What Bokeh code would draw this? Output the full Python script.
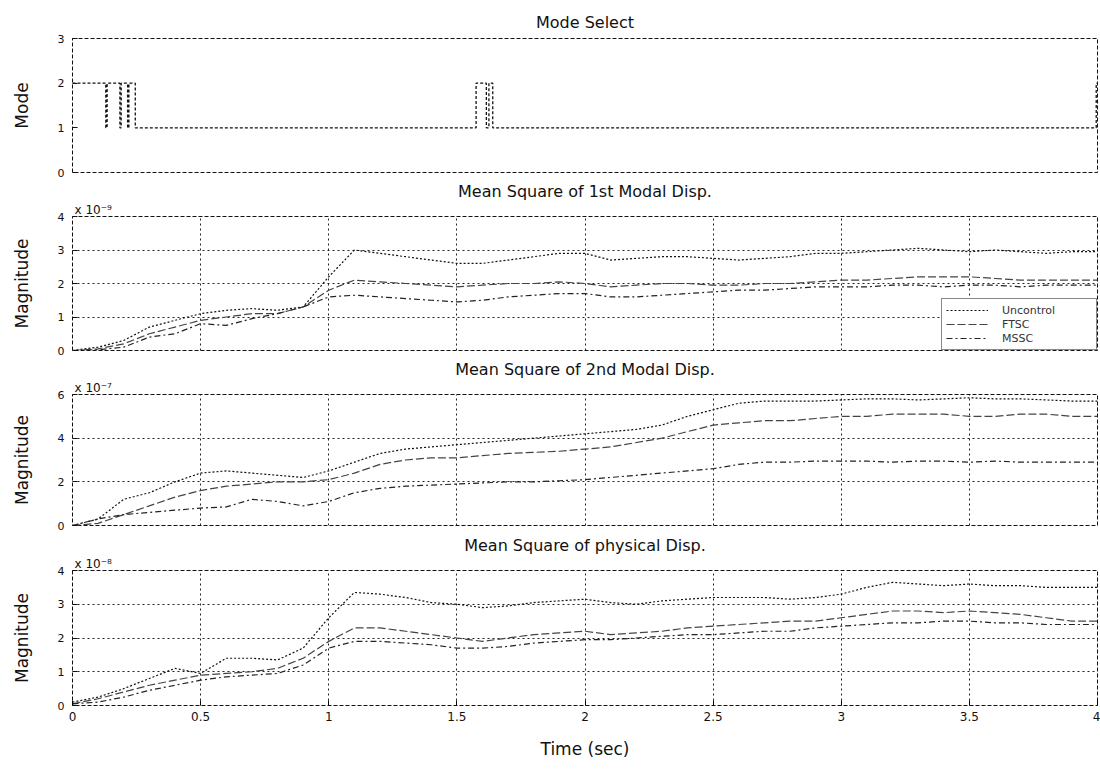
from bokeh.plotting import figure
from bokeh.layouts import column
from bokeh.models import Title, Legend, LegendItem, FixedTicker, NumeralTickFormatter
from bokeh.embed import file_html
from bokeh.resources import INLINE

# ---------------- data ----------------
# sampling instants (sec)
time_s = [0.0, 0.1, 0.2, 0.3, 0.4, 0.5, 0.6, 0.7, 0.8, 0.9,
          1.0, 1.1, 1.2, 1.3, 1.4, 1.5, 1.6, 1.7, 1.8, 1.9,
          2.0, 2.1, 2.2, 2.3, 2.4, 2.5, 2.6, 2.7, 2.8, 2.9,
          3.0, 3.1, 3.2, 3.3, 3.4, 3.5, 3.6, 3.7, 3.8, 3.9, 4.0]

# selected control mode (step signal)
mode_t = [0.0, 0.13, 0.135, 0.185, 0.19, 0.215, 0.22, 0.245, 1.575, 1.615, 1.625, 1.64, 3.995, 4.0]
mode_v = [2, 1, 2, 1, 2, 1, 2, 1, 2, 1, 2, 1, 2, 2]

# mean square of 1st modal displacement (x 1e-9)
m1_unc = [0.0, 0.1, 0.3, 0.7, 0.9, 1.1, 1.2, 1.25, 1.2, 1.3,
          2.2, 3.0, 2.9, 2.8, 2.7, 2.6, 2.6, 2.7, 2.8, 2.9,
          2.9, 2.7, 2.75, 2.8, 2.8, 2.75, 2.7, 2.75, 2.8, 2.9,
          2.9, 2.95, 3.0, 3.05, 3.0, 2.95, 3.0, 2.95, 2.9, 2.95, 2.95]
m1_ftsc = [0.0, 0.05, 0.2, 0.5, 0.7, 0.9, 1.0, 1.1, 1.1, 1.3,
           1.8, 2.1, 2.05, 2.0, 1.95, 1.9, 1.95, 2.0, 2.0, 2.05,
           2.0, 1.9, 1.95, 2.0, 2.0, 1.95, 1.95, 2.0, 2.0, 2.05,
           2.1, 2.1, 2.15, 2.2, 2.2, 2.2, 2.15, 2.1, 2.1, 2.1, 2.1]
m1_mssc = [0.0, 0.02, 0.1, 0.4, 0.5, 0.8, 0.75, 0.95, 1.1, 1.3,
           1.6, 1.65, 1.6, 1.55, 1.5, 1.45, 1.5, 1.6, 1.65, 1.7,
           1.7, 1.6, 1.6, 1.65, 1.7, 1.75, 1.8, 1.8, 1.85, 1.9,
           1.9, 1.9, 1.95, 1.95, 1.9, 1.95, 1.95, 1.9, 1.95, 1.95, 1.95]

# mean square of 2nd modal displacement (x 1e-7)
m2_unc = [0.0, 0.3, 1.2, 1.5, 2.0, 2.4, 2.5, 2.4, 2.3, 2.2,
          2.5, 2.9, 3.3, 3.5, 3.6, 3.7, 3.8, 3.9, 4.0, 4.1,
          4.2, 4.3, 4.4, 4.6, 5.0, 5.3, 5.6, 5.7, 5.7, 5.7,
          5.75, 5.8, 5.8, 5.75, 5.8, 5.85, 5.8, 5.8, 5.75, 5.7, 5.7]
m2_ftsc = [0.0, 0.1, 0.5, 0.9, 1.3, 1.6, 1.8, 1.9, 2.0, 2.0,
           2.1, 2.4, 2.8, 3.0, 3.1, 3.1, 3.2, 3.3, 3.35, 3.4,
           3.5, 3.6, 3.8, 4.0, 4.3, 4.6, 4.7, 4.8, 4.8, 4.9,
           5.0, 5.0, 5.1, 5.1, 5.1, 5.0, 5.0, 5.1, 5.1, 5.0, 5.0]
m2_mssc = [0.0, 0.3, 0.5, 0.6, 0.7, 0.8, 0.85, 1.2, 1.1, 0.9,
           1.1, 1.5, 1.7, 1.8, 1.85, 1.9, 1.95, 2.0, 2.0, 2.05,
           2.1, 2.2, 2.3, 2.4, 2.5, 2.6, 2.8, 2.9, 2.9, 2.95,
           2.95, 2.95, 2.9, 2.95, 2.95, 2.9, 2.95, 2.9, 2.9, 2.9, 2.9]

# mean square of physical displacement (x 1e-8)
ph_unc = [0.1, 0.25, 0.5, 0.8, 1.1, 0.95, 1.4, 1.4, 1.35, 1.7,
          2.6, 3.35, 3.3, 3.2, 3.05, 3.0, 2.9, 2.95, 3.05, 3.1,
          3.15, 3.05, 3.0, 3.1, 3.15, 3.2, 3.2, 3.2, 3.15, 3.2,
          3.3, 3.5, 3.65, 3.6, 3.55, 3.6, 3.55, 3.55, 3.5, 3.5, 3.5]
ph_ftsc = [0.05, 0.2, 0.4, 0.6, 0.75, 0.9, 0.95, 1.0, 1.1, 1.4,
           1.9, 2.3, 2.3, 2.2, 2.1, 2.0, 1.9, 2.0, 2.1, 2.15,
           2.2, 2.1, 2.15, 2.2, 2.3, 2.35, 2.4, 2.45, 2.5, 2.5,
           2.6, 2.7, 2.8, 2.8, 2.75, 2.8, 2.75, 2.7, 2.6, 2.5, 2.5]
ph_mssc = [0.05, 0.1, 0.25, 0.45, 0.6, 0.75, 0.85, 0.9, 0.95, 1.2,
           1.7, 1.9, 1.9, 1.85, 1.8, 1.7, 1.7, 1.75, 1.85, 1.9,
           1.95, 1.95, 2.0, 2.05, 2.1, 2.1, 2.15, 2.2, 2.2, 2.3,
           2.35, 2.4, 2.45, 2.45, 2.5, 2.5, 2.45, 2.45, 2.4, 2.4, 2.4]

x_ticks = [0, 0.5, 1, 1.5, 2, 2.5, 3, 3.5, 4]
series_names = ["Uncontrol", "FTSC", "MSSC"]

# ---------------- styling ----------------
FONT = "DejaVu Sans"
INK = "#111111"
line_styles = {
    "Uncontrol": dict(color="#111111", dash="2 2"),
    "FTSC": dict(color="#444444", dash="8 3"),
    "MSSC": dict(color="#222222", dash="6 3 2 3"),
}


def panel(total_h, top, bottom, ymax, yticks, ylabel, title, expo=None,
          title_offset=0, title_standoff=0, grid=True, show_x=False):
    p = figure(width=1100, height=total_h, x_range=(0, 4), y_range=(0, ymax),
               output_backend="svg", toolbar_location=None,
               min_border_left=72, min_border_right=3,
               min_border_top=top, min_border_bottom=bottom)
    p.background_fill_color = "white"
    p.border_fill_color = "white"
    p.outline_line_color = INK
    p.outline_line_width = 1
    p.outline_line_dash = "4 2"

    ax = p.yaxis[0]
    ax.ticker = FixedTicker(ticks=yticks)
    ax.axis_line_color = None
    ax.major_tick_in = 5
    ax.major_tick_out = 0
    ax.major_tick_line_color = INK
    ax.minor_tick_line_color = None
    ax.major_label_text_font = FONT
    ax.major_label_text_font_size = "11px"
    ax.major_label_text_color = INK
    ax.major_label_standoff = 8
    ax.axis_label = ylabel
    ax.axis_label_text_font = FONT
    ax.axis_label_text_font_size = "17px"
    ax.axis_label_text_font_style = "normal"
    ax.axis_label_text_color = INK
    ax.axis_label_standoff = 23

    xa = p.xaxis[0]
    xa.ticker = FixedTicker(ticks=x_ticks)
    if show_x:
        xa.axis_line_color = None
        xa.major_tick_in = 5
        xa.major_tick_out = 0
        xa.minor_tick_line_color = None
        xa.formatter = NumeralTickFormatter(format="0.[0]")
        xa.major_label_text_font = FONT
        xa.major_label_text_font_size = "12px"
        xa.major_label_text_color = INK
        xa.major_label_standoff = 6
        xa.axis_label = "Time (sec)"
        xa.axis_label_text_font = FONT
        xa.axis_label_text_font_size = "17px"
        xa.axis_label_text_font_style = "normal"
        xa.axis_label_text_color = INK
        xa.axis_label_standoff = 15
    else:
        xa.visible = False

    p.xgrid.ticker = FixedTicker(ticks=x_ticks)
    p.ygrid.ticker = FixedTicker(ticks=yticks)
    for g in (p.xgrid[0], p.ygrid[0]):
        g.grid_line_color = "#222222"
        g.grid_line_dash = "2 3"
        g.grid_line_width = 1
        g.visible = grid

    if expo is not None:
        # scale factor shown just above the top-left corner of the axes
        p.add_layout(Title(text=expo, align="left", offset=2, standoff=0,
                           text_font=FONT, text_font_size="12px",
                           text_font_style="normal", text_color=INK), "above")
    p.add_layout(Title(text=title, align="center", offset=title_offset,
                       standoff=title_standoff,
                       text_font=FONT, text_font_size="16px",
                       text_font_style="normal", text_color=INK), "above")
    return p


def draw_series(p, values):
    rs = []
    for name, ys in zip(series_names, values):
        st = line_styles[name]
        rs.append(p.line(time_s, ys, line_color=st["color"], line_dash=st["dash"],
                         line_width=1.2))
    return rs


# Mode Select
p1 = panel(178, 38, 6, 3, [0, 1, 2, 3], "Mode", "Mode Select",
           title_offset=30, title_standoff=13, grid=False)
p1.step(mode_t, mode_v, mode="after", line_color=INK, line_dash="3 2", line_width=1.3)

# 1st modal displacement
p2 = panel(178, 38, 6, 4, [0, 1, 2, 3, 4], "Magnitude",
           "Mean Square of 1st Modal Disp.", expo="x 10\u207b\u2079")
r2 = draw_series(p2, [m1_unc, m1_ftsc, m1_mssc])
legend = Legend(items=[LegendItem(label=n, renderers=[r]) for n, r in zip(series_names, r2)],
                location="bottom_right")
legend.margin = 0
legend.padding = 4
legend.spacing = 0
legend.border_line_color = INK
legend.border_line_width = 1
legend.background_fill_color = "white"
legend.background_fill_alpha = 1.0
legend.label_text_font = FONT
legend.label_text_font_size = "11px"
legend.label_text_color = "#333333"
legend.glyph_width = 42
legend.glyph_height = 14
legend.label_height = 14
legend.label_standoff = 14
legend.label_width = 90
p2.add_layout(legend)

# 2nd modal displacement
p3 = panel(175, 38, 6, 6, [0, 2, 4, 6], "Magnitude",
           "Mean Square of 2nd Modal Disp.", expo="x 10\u207b\u2077")
draw_series(p3, [m2_unc, m2_ftsc, m2_mssc])

# physical displacement
p4 = panel(240, 39, 66, 4, [0, 1, 2, 3, 4], "Magnitude",
           "Mean Square of physical Disp.", expo="x 10\u207b\u2078", show_x=True)
draw_series(p4, [ph_unc, ph_ftsc, ph_mssc])

layout = column(p1, p2, p3, p4, spacing=0)

with open("out.html", "w") as f:
    f.write(file_html(layout, INLINE))
